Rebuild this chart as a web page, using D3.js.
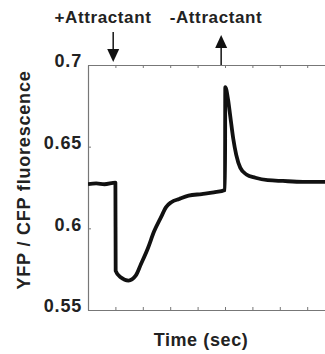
<!DOCTYPE html>
<html>
<head>
<meta charset="utf-8">
<script src="https://cdn.jsdelivr.net/npm/d3@7"></script>
<style>
  body { margin: 0; background: #fff; }
  svg { display: block; }
  text { font-family: 'Liberation Sans', Arial, sans-serif; font-weight: bold; fill: #222; }
</style>
</head>
<body>
<div id="chart"></div>
<script>
const width = 325;
const height = 354;

// FRET ratio trace (time in arbitrary seconds)
const times = [0, 3, 6, 10, 10.1, 11.9, 14.8, 17.4, 19.3, 21.9, 24.1, 26.7, 28.5, 30.4,
  33.3, 36.7, 41.5, 45.9, 50, 50.1, 51.1, 51.9, 53, 54.1, 55.6, 57.8, 61.1, 65.6,
  71.1, 78.5, 90];
const ratio = [0.627, 0.6275, 0.627, 0.628, 0.574, 0.570, 0.568, 0.571, 0.578, 0.588,
  0.598, 0.607, 0.613, 0.616, 0.618, 0.620, 0.621, 0.622, 0.6235, 0.6865, 0.679,
  0.669, 0.655, 0.645, 0.637, 0.633, 0.631, 0.6295, 0.629, 0.6285, 0.6285];

const yTicks = [0.55, 0.6, 0.65, 0.7];
const yTickLabels = ['0.55', '0.6', '0.65', '0.7'];

// stimulus markers
const events = [
  {label: '+Attractant', time: 9.2, dir: 'down'},
  {label: '-Attractant', time: 48.6, dir: 'up'}
];

const margin = {top: 65, left: 88, bottom: 44};

const x = d3.scaleLinear().domain([0, 90]).range([margin.left, margin.left + 246.6]);
const y = d3.scaleLinear().domain([0.55, 0.7]).range([height - margin.bottom, margin.top]);

const svg = d3.select('#chart').append('svg')
  .attr('width', width)
  .attr('height', height);

const axisColor = '#777';

// bottom and top axes with inward ticks, no labels
const xTicks = d3.range(0, 91, 10);
const axBottom = svg.append('g')
  .attr('transform', `translate(0,${y(0.55)})`)
  .call(d3.axisTop(x).tickValues(xTicks).tickSize(3).tickFormat('').tickSizeOuter(0));
const axTop = svg.append('g')
  .attr('transform', `translate(0,${y(0.7)})`)
  .call(d3.axisBottom(x).tickValues(xTicks).tickSize(3).tickFormat('').tickSizeOuter(0));
const axLeft = svg.append('g')
  .attr('transform', `translate(${margin.left},0)`)
  .call(d3.axisRight(y).tickValues(yTicks).tickSize(3).tickFormat('').tickSizeOuter(0));

[axBottom, axTop, axLeft].forEach(g => {
  g.select('.domain').attr('stroke', axisColor).attr('stroke-width', 1.2);
  g.selectAll('.tick line').attr('stroke', axisColor).attr('stroke-width', 1);
});

// y tick labels
svg.append('g').selectAll('text')
  .data(yTicks)
  .enter().append('text')
  .attr('x', 82)
  .attr('y', d => y(d) - 4)
  .attr('dy', '0.35em')
  .attr('text-anchor', 'end')
  .style('font-size', '18px')
  .style('letter-spacing', '0.8px')
  .text((d, i) => yTickLabels[i]);

// trace
const data = times.map((t, i) => ({t: t, v: ratio[i]}));
const line = d3.line().x(d => x(d.t)).y(d => y(d.v)).curve(d3.curveMonotoneX);

svg.append('defs').append('clipPath').attr('id', 'clip')
  .append('rect').attr('x', margin.left).attr('y', margin.top)
  .attr('width', width - margin.left).attr('height', y(0.55) - margin.top);

svg.append('path')
  .datum(data)
  .attr('clip-path', 'url(#clip)')
  .attr('fill', 'none')
  .attr('stroke', '#111')
  .attr('stroke-width', 3.8)
  .attr('stroke-linejoin', 'round')
  .attr('d', line);

// arrows and labels
const ev = svg.append('g').selectAll('g')
  .data(events)
  .enter().append('g');

ev.append('line')
  .attr('x1', d => x(d.time)).attr('x2', d => x(d.time))
  .attr('y1', d => d.dir === 'down' ? 32 : 46)
  .attr('y2', d => d.dir === 'down' ? 51 : y(0.7))
  .attr('stroke', '#222')
  .attr('stroke-width', 1.6);

ev.append('path')
  .attr('fill', '#111')
  .attr('d', d => {
    const cx = x(d.time);
    return d.dir === 'down'
      ? `M${cx - 6},49 L${cx + 6},49 L${cx},62 Z`
      : `M${cx - 6},48 L${cx + 6},48 L${cx},35 Z`;
  });

svg.append('g').selectAll('text')
  .data(events)
  .enter().append('text')
  .attr('x', (d, i) => i === 0 ? 103 : 216)
  .attr('y', 23)
  .attr('text-anchor', 'middle')
  .style('font-size', '17px')
  .style('letter-spacing', '0.6px')
  .text(d => d.label);

// axis titles
svg.append('text')
  .attr('x', 201)
  .attr('y', 346)
  .attr('text-anchor', 'middle')
  .style('font-size', '18px')
  .style('letter-spacing', '0.6px')
  .text('Time (sec)');

svg.append('text')
  .attr('transform', 'translate(30,180) rotate(-90)')
  .attr('text-anchor', 'middle')
  .style('font-size', '18px')
  .style('letter-spacing', '0.8px')
  .text('YFP / CFP fluorescence');
</script>
</body>
</html>
